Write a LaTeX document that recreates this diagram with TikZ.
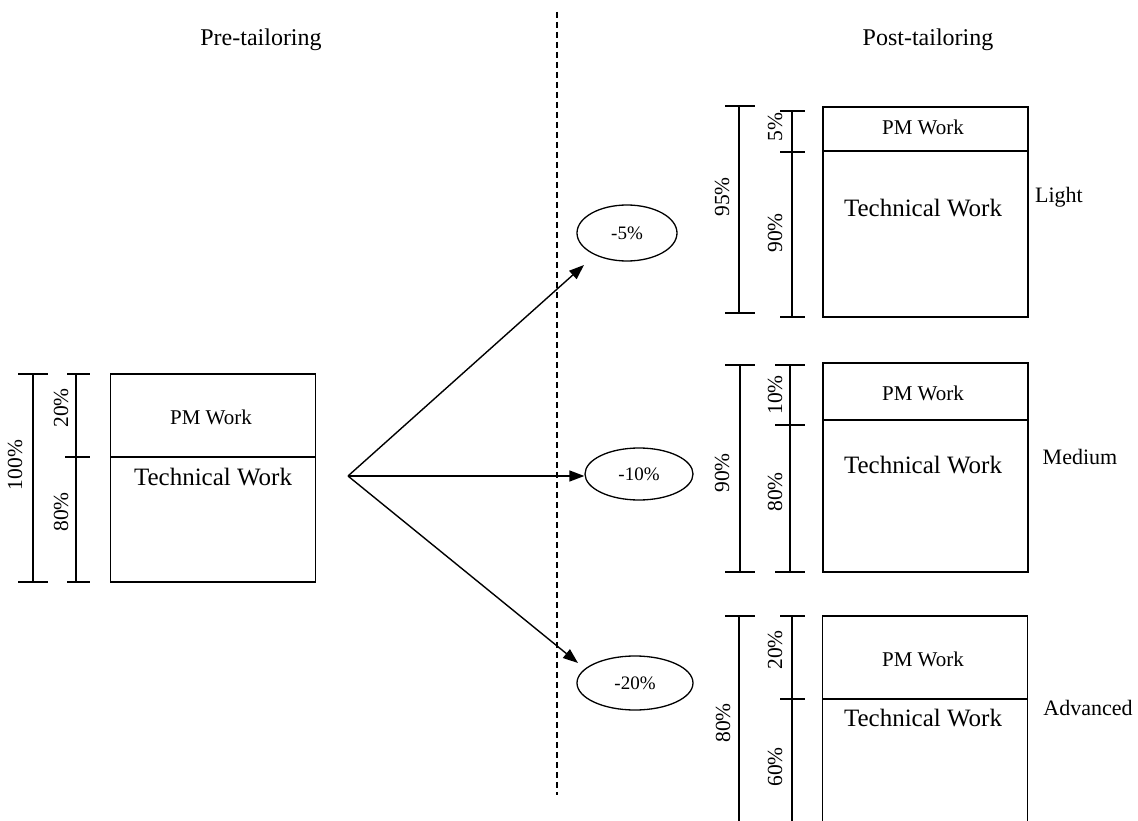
\documentclass[tikz,border=0pt]{standalone}
\usepackage{fontspec}
\setmainfont{Liberation Serif}
\usetikzlibrary{arrows.meta,shapes.geometric}
\begin{document}
\begin{tikzpicture}[x=1pt,y=-1pt,
  lw/.style={line width=1.5pt},
  workbox/.style={draw, line width=1.5pt, minimum width=205pt, inner sep=0pt},
  pmtext/.style={font=\fontsize{21}{21}\selectfont, inner sep=0pt},
  techtext/.style={font=\fontsize{25}{25}\selectfont, inner sep=0pt},
  pct/.style={font=\fontsize{21.5}{21.5}\selectfont, rotate=90, inner sep=0pt},
  oval/.style={draw, ellipse, line width=1.3pt, inner sep=0pt, font=\fontsize{19}{19}\selectfont},
  level/.style={font=\fontsize{22}{22}\selectfont, inner sep=0pt},
  head/.style={font=\fontsize{24}{24}\selectfont, inner sep=0pt},
  arr/.style={line width=1.4pt, -{Triangle[length=15pt,width=11pt]}},
]
\useasboundingbox (0,0) rectangle (1138,821);
\clip (0,0) rectangle (1138,821);

% headings and divider
\node[head] (pre) at (261,40) {Pre-tailoring};
\node[head] (post) at (928,40) {Post-tailoring};
\coordinate (dtop) at (557,12);
\coordinate (dbot) at (557,795);
\draw[line width=1.2pt, dash pattern=on 6pt off 4pt] (dtop) -- (dbot);

% left box
\node[workbox, minimum height=208pt] (boxL) at (213,478) {};
\draw[lw] (110,457) -- (316,457);
\node[pmtext] (pmL) at (211,417) {PM Work};
\node[techtext] (techL) at (213,477) {Technical Work};
\draw[lw] (33,374) -- (33,582);
\draw[lw] (18,374) -- (48,374);
\draw[lw] (18,582) -- (48,582);
\draw[lw] (76,374) -- (76,582);
\draw[lw] (67,374) -- (90,374);
\draw[lw] (65,457) -- (90,457);
\draw[lw] (67,582) -- (90,582);
\node[pct] (pL100) at (15,465) {100\%};
\node[pct] (pL20) at (61,408) {20\%};
\node[pct] (pL80) at (61,512) {80\%};

% ellipses and arrows
\node[oval, minimum width=100pt, minimum height=56pt] (e5) at (627,233) {-5\%};
\node[oval, minimum width=108pt, minimum height=52pt] (e10) at (639,474) {-10\%};
\node[oval, minimum width=116pt, minimum height=54pt] (e20) at (635,683) {-20\%};
\coordinate (src) at (348,476);
\coordinate (t5) at (584,265);
\coordinate (t20) at (578,663);
\draw[arr] (src) -- (t5);
\draw[arr] (src) -- (src -| e10.west);
\draw[arr] (src) -- (t20);

% top right (Light)
\node[workbox, minimum height=210pt] (boxA) at (925.5,212) {};
\draw[lw] (823,151) -- (1028,151);
\node[pmtext] (pmA) at (923,127) {PM Work};
\node[techtext] (techA) at (923,208) {Technical Work};
\node[level] (light) at (1059,197) {Light};
\draw[lw] (739,106) -- (739,313);
\draw[lw] (725,106) -- (755,106);
\draw[lw] (725,313) -- (755,313);
\draw[lw] (792,111) -- (792,317);
\draw[lw] (780,111) -- (805,111);
\draw[lw] (780,152) -- (805,152);
\draw[lw] (780,317) -- (805,317);
\node[pct] (pA95) at (722,197) {95\%};
\node[pct] (pA5) at (775,127) {5\%};
\node[pct] (pA90) at (775,233) {90\%};

% middle right (Medium)
\node[workbox, minimum height=209pt] (boxB) at (925.5,467.5) {};
\draw[line width=2.6pt] (823,363) -- (1028,363);
\draw[lw] (823,420) -- (1028,420);
\node[pmtext] (pmB) at (923,393) {PM Work};
\node[techtext] (techB) at (923,465) {Technical Work};
\node[level] (medium) at (1080,457) {Medium};
\draw[lw] (740,365) -- (740,572);
\draw[lw] (725,365) -- (755,365);
\draw[lw] (725,572) -- (755,572);
\draw[lw] (790,365) -- (790,572);
\draw[lw] (775,365) -- (805,365);
\draw[lw] (775,425) -- (805,425);
\draw[lw] (775,572) -- (805,572);
\node[pct] (pB90) at (722,473) {90\%};
\node[pct] (pB10) at (775,395) {10\%};
\node[pct] (pB80) at (775,492) {80\%};

% bottom right (Advanced)
\node[workbox, minimum height=250pt] (boxC) at (925,741) {};
\draw[lw] (822,699) -- (1028,699);
\node[pmtext] (pmC) at (923,659) {PM Work};
\node[techtext] (techC) at (923,718) {Technical Work};
\node[level] (adv) at (1088,708) {Advanced};
\draw[lw] (739,616) -- (739,830);
\draw[lw] (725,616) -- (755,616);
\draw[lw] (792,616) -- (792,830);
\draw[lw] (780,616) -- (805,616);
\draw[line width=2.4pt] (780,699) -- (805,699);
\node[pct] (pC80) at (723,723) {80\%};
\node[pct] (pC20) at (775,650) {20\%};
\node[pct] (pC60) at (775,767) {60\%};
\end{tikzpicture}
\end{document}
